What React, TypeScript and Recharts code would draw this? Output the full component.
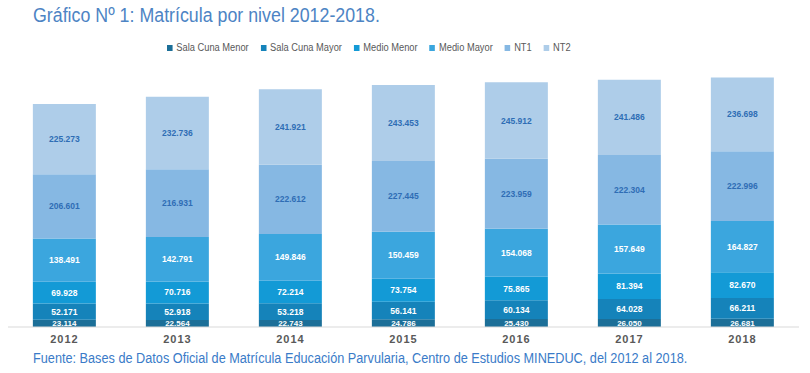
import { Bar, BarChart, LabelList, XAxis, YAxis } from "recharts";

const YEARS = ["2012", "2013", "2014", "2015", "2016", "2017", "2018"];
const SALA_CUNA_MENOR = [23114, 22564, 22743, 24786, 25430, 26050, 26681];
const SALA_CUNA_MAYOR = [52171, 52918, 53218, 56141, 60134, 64028, 66211];
const MEDIO_MENOR = [69928, 70716, 72214, 73754, 75865, 81394, 82670];
const MEDIO_MAYOR = [138491, 142791, 149846, 150459, 154068, 157649, 164827];
const NT1 = [206601, 216931, 222612, 227445, 223959, 222304, 222996];
const NT2 = [225273, 232736, 241921, 243453, 245912, 241486, 236698];

const SERIES = [
  { key: "scMenor", name: "Sala Cuna Menor", values: SALA_CUNA_MENOR, color: "#1c6f98", label: "#ffffff" },
  { key: "scMayor", name: "Sala Cuna Mayor", values: SALA_CUNA_MAYOR, color: "#1583ba", label: "#ffffff" },
  { key: "mMenor", name: "Medio Menor", values: MEDIO_MENOR, color: "#139ad6", label: "#ffffff" },
  { key: "mMayor", name: "Medio Mayor", values: MEDIO_MAYOR, color: "#3ba6de", label: "#ffffff" },
  { key: "nt1", name: "NT1", values: NT1, color: "#86b8e3", label: "#2f6db5" },
  { key: "nt2", name: "NT2", values: NT2, color: "#aecde9", label: "#2f6db5" },
];

const data = YEARS.map((year, i) => {
  const row: Record<string, string | number> = { year };
  SERIES.forEach((s) => {
    row[s.key] = s.values[i];
  });
  return row;
});

const formatThousands = (v: number) =>
  String(v).replace(/\B(?=(\d{3})+(?!\d))/g, ".");

const SANS = '"Liberation Sans", Arial, sans-serif';

function YearTick({ x, y, payload }: any) {
  return (
    <text
      x={x}
      y={y}
      dy="0.71em"
      textAnchor="middle"
      fill="#595959"
      fontSize={11}
      fontWeight="bold"
      letterSpacing={1}
      fontFamily={SANS}
    >
      {payload.value}
    </text>
  );
}

export default function App() {
  return (
    <div
      style={{
        position: "fixed",
        left: 0,
        top: 0,
        width: 810,
        height: 373,
        background: "#ffffff",
        fontFamily: SANS,
      }}
    >
      <div
        style={{
          position: "absolute",
          left: 33,
          top: 4,
          fontSize: 20,
          color: "#4d84c4",
          whiteSpace: "nowrap",
          transform: "scaleX(0.89)",
          transformOrigin: "left top",
        }}
      >
        Gráfico Nº 1: Matrícula por nivel 2012-2018.
      </div>

      <div
        style={{
          position: "absolute",
          left: 167,
          top: 42,
          display: "flex",
          gap: 13,
          fontSize: 10,
          color: "#595959",
          whiteSpace: "nowrap",
          transform: "scaleX(0.93)",
          transformOrigin: "left top",
        }}
      >
        {SERIES.map((s) => (
          <div key={s.key} style={{ display: "flex", alignItems: "center" }}>
            <span
              style={{
                display: "inline-block",
                width: 6,
                height: 6,
                background: s.color,
                marginRight: 4,
              }}
            />
            {s.name}
          </div>
        ))}
      </div>

      <BarChart
        width={810}
        height={373}
        data={data}
        margin={{ top: 62, right: 11, bottom: 26, left: 8 }}
        barCategoryGap="22%"
      >
        <XAxis
          dataKey="year"
          height={20}
          tickLine={false}
          axisLine={{ stroke: "#d9d9d9" }}
          tick={<YearTick />}
        />
        <YAxis hide domain={[0, 850000]} />
        {SERIES.map((s) => (
          <Bar
            key={s.key}
            dataKey={s.key}
            name={s.name}
            stackId="total"
            fill={s.color}
            isAnimationActive={false}
          >
            <LabelList
              dataKey={s.key}
              position="center"
              formatter={(v: any) => formatThousands(Number(v))}
              fill={s.label}
              fontSize={s.key === "scMenor" ? 8 : 8.5}
              fontWeight="bold"
              fontFamily={SANS}
            />
          </Bar>
        ))}
      </BarChart>

      <div
        style={{
          position: "absolute",
          left: 33,
          top: 350,
          fontSize: 14,
          color: "#3a7bc8",
          whiteSpace: "nowrap",
          transform: "scaleX(0.907)",
          transformOrigin: "left top",
        }}
      >
        Fuente: Bases de Datos Oficial de Matrícula Educación Parvularia, Centro de Estudios MINEDUC, del 2012 al 2018.
      </div>
    </div>
  );
}
